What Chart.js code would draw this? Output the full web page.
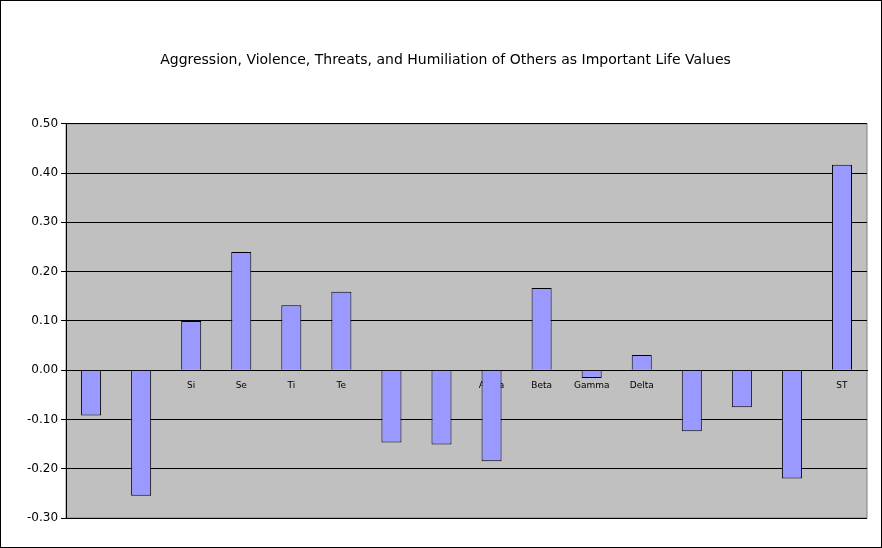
<!DOCTYPE html>
<html><head><meta charset="utf-8">
<script src="https://cdn.jsdelivr.net/npm/chart.js@4"></script>
<style>body{margin:0;background:#fff}#wrap{width:880px;height:546px;border:1px solid #000}</style>
</head><body><div id="wrap"><canvas id="c"></canvas></div>
<script>
const categories=["Ni","Ne","Si","Se","Ti","Te","Fi","Fe","Alpha","Beta","Gamma","Delta","NT","SF","NF","ST"];
const values=[-0.092,-0.255,0.100,0.240,0.132,0.159,-0.147,-0.151,-0.185,0.167,-0.016,0.031,-0.124,-0.075,-0.220,0.417];
const bgPlugin={id:'bg',beforeDraw(ch){const a=ch.chartArea,x=ch.ctx;x.save();x.fillStyle='#c0c0c0';x.fillRect(a.left,a.top,a.right-a.left,a.bottom-a.top);x.strokeStyle='#808080';x.strokeRect(a.left,a.top,a.right-a.left,a.bottom-a.top);x.restore();}};
new Chart(document.getElementById('c'),{
  type:'bar',
  data:{labels:categories,datasets:[{data:values,backgroundColor:'#9999ff',borderColor:'#000',borderWidth:1,barPercentage:0.4,categoryPercentage:1}]},
  options:{responsive:true,maintainAspectRatio:false,animation:false,
    layout:{padding:{left:23,right:14,top:43,bottom:29}},
    plugins:{legend:{display:false},tooltip:{enabled:false},
      title:{display:true,text:'Aggression, Violence, Threats, and Humiliation of Others as Important Life Values',color:'#000',font:{family:'DejaVu Sans',size:14,weight:'normal'},padding:{top:8,bottom:55}}},
    scales:{
      x:{position:{y:0},z:1,grid:{display:false},border:{color:'#000'},ticks:{color:'#000',font:{family:'DejaVu Sans',size:9},padding:2}},
      y:{min:-0.3,max:0.5,ticks:{stepSize:0.1,color:'#000',font:{family:'DejaVu Sans',size:12},callback:v=>v.toFixed(2)},grid:{color:'#000',drawTicks:true,tickLength:5},border:{color:'#000'}}
    }},
  plugins:[bgPlugin]
});
</script></body></html>
